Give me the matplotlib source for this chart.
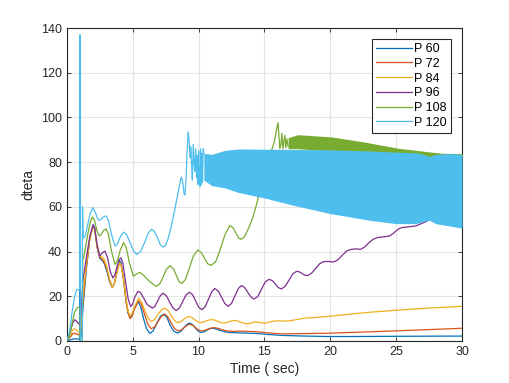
import numpy as np
import matplotlib
matplotlib.use("Agg")
import matplotlib.pyplot as plt

plt.rcParams['font.family'] = ['Liberation Sans', 'DejaVu Sans']

# (time, dteta) points
p60 = [(0, 0), (0.3, 0.6), (0.6, 1), (0.99, 0.8), (1.0, 128), (1.01, 0), (1.1, 3), (1.23, 15),
       (1.5, 33), (1.75, 46), (2.0, 52), (2.12, 50.5), (2.3, 42), (2.5, 37), (2.7, 36),
       (2.85, 34.5), (3.05, 31), (3.25, 26.5), (3.45, 24), (3.6, 25.5), (3.8, 31), (4.0, 36),
       (4.12, 35), (4.3, 28), (4.5, 18), (4.65, 12.5), (4.8, 10.5), (4.95, 11.5), (5.15, 15),
       (5.4, 17.5), (5.6, 15.5), (5.85, 9.5), (6.05, 5.5), (6.3, 3.4), (6.55, 4.5), (6.8, 7.5),
       (7.1, 11), (7.35, 12), (7.6, 10.5), (7.85, 7), (8.1, 4.5), (8.4, 3.5), (8.65, 4.3),
       (8.9, 6), (9.15, 7.6), (9.35, 8), (9.6, 7), (9.8, 5.5), (10.0, 4.3), (10.2, 3.8),
       (10.45, 4.2), (10.7, 5.1), (10.9, 5.6), (11.1, 5.7), (11.35, 5.4), (11.6, 4.8),
       (12.0, 4.1), (12.3, 3.8), (12.8, 3.7), (13.2, 3.6), (14.3, 3.4), (15.3, 2.9),
       (16.3, 2.5), (18, 2.2), (19.9, 2), (22, 2), (25, 2.1), (30, 2.2)]

p72 = [(0, 0), (0.15, 1), (0.3, 2), (0.45, 3.2), (0.6, 3.5), (0.8, 3), (1.0, 2.5), (1.1, 6),
       (1.23, 18), (1.5, 34), (1.75, 46), (2.0, 51.5), (2.12, 50), (2.3, 42), (2.5, 37.5),
       (2.7, 36.5), (2.85, 35), (3.05, 32), (3.25, 27), (3.45, 24), (3.6, 25.5), (3.8, 30.5),
       (4.0, 35), (4.12, 34), (4.3, 27.5), (4.5, 17.5), (4.65, 12.5), (4.8, 10), (4.95, 11),
       (5.15, 14.5), (5.45, 18), (5.65, 16.5), (5.9, 12), (6.15, 7.5), (6.4, 5.5), (6.65, 6.2),
       (6.9, 8.5), (7.2, 11.2), (7.45, 12), (7.7, 10.5), (7.95, 7.8), (8.2, 5.4), (8.45, 4.5),
       (8.7, 5), (8.9, 6), (9.15, 7.1), (9.35, 7.5), (9.6, 6.8), (9.8, 5.8), (10.0, 4.9),
       (10.2, 4.5), (10.45, 4.7), (10.7, 5.3), (10.95, 5.8), (11.2, 6), (11.5, 5.6),
       (11.8, 5), (12.15, 4.5), (12.5, 4.3), (13.2, 4.4), (14.3, 4.2), (15.3, 3.6),
       (16.3, 3.2), (18, 3.3), (19.9, 3.5), (22, 3.9), (24.9, 4.5), (27.5, 5.1), (30, 5.7)]

p84 = [(0, 0), (0.15, 1.5), (0.3, 3), (0.45, 5), (0.6, 5.5), (0.8, 4.5), (1.0, 3.5), (1.1, 8),
       (1.23, 20), (1.5, 35), (1.75, 46), (2.0, 51), (2.12, 50), (2.3, 42.5), (2.5, 38),
       (2.7, 37.5), (2.85, 36.5), (3.05, 33), (3.25, 27.5), (3.45, 24), (3.6, 25.5),
       (3.8, 30.5), (4.0, 35), (4.12, 34), (4.3, 28), (4.5, 19), (4.65, 13.5), (4.8, 11.2),
       (4.95, 12.3), (5.15, 15.5), (5.45, 19.2), (5.65, 17.8), (5.9, 14), (6.15, 10.5),
       (6.4, 8.7), (6.65, 9.5), (6.9, 11.8), (7.2, 14), (7.45, 14.7), (7.7, 13.5), (7.95, 11),
       (8.2, 9), (8.4, 8.2), (8.65, 8.6), (8.9, 9.8), (9.1, 10.6), (9.3, 10.9), (9.5, 10.5),
       (9.7, 9.5), (9.95, 8.6), (10.15, 8.2), (10.4, 8.5), (10.6, 9), (10.8, 9.4), (11.0, 9.6),
       (11.25, 9.3), (11.5, 8.7), (11.7, 8.2), (11.9, 8), (12.1, 8.2), (12.3, 8.6), (12.5, 9),
       (12.7, 9.2), (12.95, 9), (13.2, 8.4), (13.45, 7.9), (13.7, 7.7), (14.0, 8), (14.3, 8.5),
       (14.65, 8.3), (15.0, 7.9), (15.4, 8.5), (15.8, 9), (16.3, 9), (16.8, 8.9), (17.4, 9.5),
       (18.0, 10.2), (19.0, 10.6), (19.9, 11), (20.8, 11.6), (21.8, 12.2), (23.3, 13),
       (24.9, 13.7), (26.1, 14.2), (27.4, 14.7), (28.7, 15.1), (30, 15.5)]

p96 = [(0, 0), (0.15, 2), (0.3, 5), (0.45, 8), (0.6, 9.5), (0.8, 8.5), (1.0, 7), (1.1, 15),
       (1.23, 27.5), (1.5, 38), (1.75, 47), (2.0, 52), (2.12, 50), (2.3, 43), (2.5, 38),
       (2.7, 39.5), (2.9, 40.2), (3.1, 37), (3.3, 31), (3.5, 28.2), (3.65, 29.5), (3.8, 33),
       (3.95, 36.3), (4.1, 37.2), (4.25, 35), (4.45, 27), (4.65, 19), (4.85, 15.4), (5.0, 16.5),
       (5.15, 19.5), (5.4, 22.2), (5.6, 21.6), (5.85, 19), (6.1, 16.3), (6.5, 14.7),
       (6.7, 15.6), (6.9, 18), (7.1, 20.3), (7.3, 21.4), (7.55, 20.3), (7.8, 17.5),
       (8.05, 14.8), (8.3, 13.6), (8.55, 14.8), (8.8, 17.7), (9.05, 20.6), (9.3, 21.8),
       (9.55, 20.7), (9.78, 17.9), (10.0, 15.2), (10.25, 14), (10.5, 15.3), (10.75, 18.7),
       (11.0, 22), (11.23, 23.5), (11.5, 22.3), (11.75, 19.5), (12.0, 16.7), (12.26, 15.5),
       (12.5, 16.8), (12.76, 20.1), (13.02, 23.5), (13.26, 24.8), (13.5, 23.9), (13.73, 21.8),
       (13.97, 19.7), (14.2, 18.8), (14.5, 19.9), (14.78, 23.2), (15.07, 26.5), (15.35, 27.6),
       (15.6, 27), (15.82, 25.5), (16.05, 23.9), (16.29, 23.3), (16.58, 24.5), (16.87, 27.3),
       (17.16, 30.1), (17.45, 31.2), (17.7, 30.8), (17.9, 30), (18.1, 29.4), (18.3, 29.3),
       (18.6, 30.5), (18.9, 32.5), (19.2, 34.6), (19.5, 35.5), (19.85, 35.6), (20.2, 35.3),
       (20.55, 36.2), (20.9, 38.3), (21.25, 40.3), (21.6, 41), (21.95, 41.2), (22.3, 41),
       (22.6, 42), (22.9, 43.8), (23.25, 45.5), (23.6, 46.3), (24.05, 46.6), (24.5, 47),
       (24.75, 48), (25.0, 49.3), (25.25, 50.4), (25.5, 50.8), (26.0, 51.1), (26.5, 51.5),
       (26.9, 52.5), (27.3, 53.5), (28, 56), (29, 58), (30, 60)]

p108 = [(0, 0), (0.2, 2), (0.4, 8), (0.6, 13), (0.8, 15), (1.0, 15), (1.02, 0), (1.18, 0),
        (1.2, 36), (1.3, 38), (1.45, 43), (1.6, 48), (1.8, 53.5), (1.95, 55.5), (2.1, 54),
        (2.3, 49), (2.47, 47), (2.65, 48), (2.8, 49.5), (2.98, 50.2), (3.15, 48), (3.4, 40),
        (3.66, 34.2), (3.85, 36), (4.05, 40.5), (4.3, 44), (4.5, 42), (4.75, 35), (5.05, 29),
        (5.3, 30), (5.55, 30.7), (5.9, 29), (6.3, 26.5), (6.8, 24.4), (7.05, 25.5), (7.3, 28.5),
        (7.55, 32), (7.83, 33.7), (8.1, 32.2), (8.35, 28.8), (8.55, 26.3), (8.75, 25.8),
        (9.0, 27.5), (9.3, 32.5), (9.6, 38), (9.95, 40.7), (10.2, 39.6), (10.45, 37),
        (10.7, 34.5), (10.95, 33.8), (11.3, 35.5), (11.65, 41), (12.0, 47.5), (12.37, 51.6),
        (12.6, 50.8), (12.82, 48.4), (13.05, 46), (13.26, 45.5), (13.5, 46.8), (13.8, 50.5),
        (14.1, 55), (14.4, 61), (14.65, 67), (15.0, 75), (15.3, 81), (15.55, 85.5),
        (15.75, 89), (15.9, 94), (16.03, 97.7), (16.1, 92), (16.17, 86), (16.25, 88),
        (16.32, 93), (16.4, 86), (16.48, 89.5), (16.55, 92), (16.62, 86.5), (16.7, 90.5),
        (16.8, 87)]
p108_band_t = [16.8, 17.55, 20.1, 22.6, 25.1, 26.5, 27.65, 28.5, 30]
p108_band_hi = [91, 92.3, 91.3, 89, 86.3, 85.3, 84.5, 84, 83.8]
p108_band_lo = [86, 86, 85, 84, 83.5, 83, 82.3, 82.5, 82.5]

p120 = [(0, 0), (0.2, 4), (0.4, 13), (0.6, 20), (0.76, 23), (0.98, 23), (1.0, 137), (1.02, 0),
        (1.17, 0), (1.19, 60), (1.25, 46), (1.4, 47), (1.55, 51), (1.75, 56.5), (1.97, 59.7),
        (2.2, 57), (2.35, 54.5), (2.47, 54), (2.6, 54.5), (2.78, 55.5), (2.98, 56), (3.15, 54),
        (3.4, 47.5), (3.66, 42.4), (3.85, 43.5), (4.05, 46.5), (4.3, 48.7), (4.55, 47.5),
        (4.8, 44), (5.05, 40.5), (5.3, 38.7), (5.6, 40), (5.9, 44), (6.2, 48.5), (6.44, 50),
        (6.65, 49), (6.9, 46), (7.1, 43), (7.3, 42), (7.5, 42.8), (7.7, 46), (7.9, 50.5),
        (8.1, 56), (8.3, 62), (8.5, 68), (8.65, 72.5), (8.71, 73.3), (8.8, 71), (8.9, 66),
        (8.96, 65.3), (9.05, 72), (9.12, 84), (9.21, 93.5), (9.28, 90), (9.35, 82), (9.42, 87),
        (9.47, 78.5), (9.53, 72), (9.6, 88), (9.66, 80), (9.72, 76), (9.78, 86), (9.84, 73),
        (9.9, 83), (9.95, 70), (10.0, 85), (10.05, 72), (10.1, 69), (10.15, 86), (10.2, 70),
        (10.25, 84), (10.3, 71), (10.35, 86), (10.4, 84)]
p120_band_t = [10.4, 11, 12, 13, 15, 17, 20, 23, 25, 26.5, 27.1, 27.5, 28, 29, 30]
p120_band_hi = [84, 83.5, 85.3, 85.9, 85.8, 85.7, 85.5, 85, 84.5, 84.2, 83.5, 82.5, 83.5, 83.8, 83.5]
p120_band_lo = [72, 69.5, 68.5, 66.5, 64, 61, 57, 54, 52.5, 52.5, 53.5, 54, 52.5, 51.5, 50.5]

labels = ["P 60", "P 72", "P 84", "P 96", "P 108", "P 120"]
colors = ["#0072BD", "#D95319", "#EDB120", "#7E2F8E", "#77AC30", "#4DBEEE"]

fig = plt.figure(figsize=(5.1, 3.83), dpi=100)
ax = fig.add_axes([0.131, 0.1097, 0.775, 0.817])

series = [p60, p72, p84, p96, p108, p120]
for i, (data, lab, col) in enumerate(zip(series, labels, colors)):
    t, v = np.array(data).T
    ax.plot(t, v, color=col, lw=0.9, label=lab, zorder=2 + i, solid_joinstyle="round")
    if lab == "P 108":
        ax.fill_between(p108_band_t, p108_band_lo, p108_band_hi, color=col, lw=0, zorder=2 + i)
    if lab == "P 120":
        ax.fill_between(p120_band_t, p120_band_lo, p120_band_hi, color=col, lw=0, zorder=2 + i)

ax.set_xlim(0, 30)
ax.set_ylim(0, 140)
ax.set_xticks(np.arange(0, 31, 5))
ax.set_yticks(np.arange(0, 141, 20))
ax.grid(True, color="#e3e3e3", lw=0.8)
ax.set_axisbelow(True)
ax.tick_params(direction="in", top=True, right=True, length=3, labelsize=9,
               colors="#262626", width=0.6)
for s in ax.spines.values():
    s.set_color("#262626")
    s.set_linewidth(0.8)

ax.set_xlabel("Time ( sec)", fontsize=10, color="#262626", labelpad=3)
ax.set_ylabel("dteta", fontsize=10, color="#262626", labelpad=4)

leg = ax.legend(loc="upper right", fontsize=9, fancybox=False, edgecolor="#262626",
                framealpha=1, handlelength=2.9, labelspacing=0.22, borderpad=0.3,
                handletextpad=0.2, borderaxespad=0.9)
leg.get_frame().set_linewidth(0.8)
leg.set_zorder(20)

fig.savefig("out.png", dpi=100)
